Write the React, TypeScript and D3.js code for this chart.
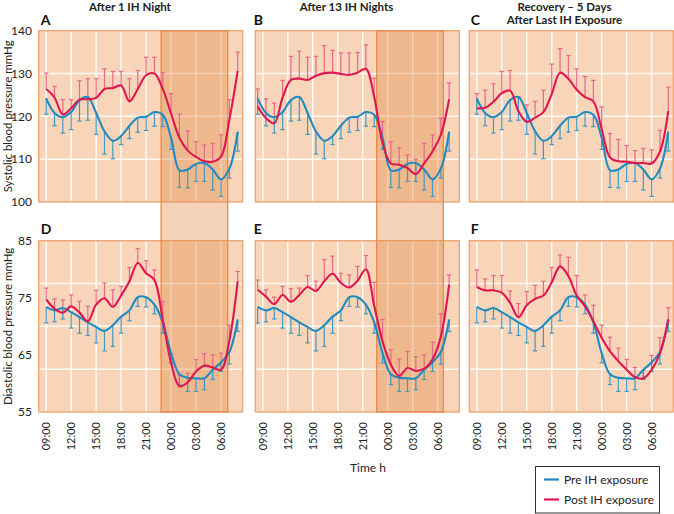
import React from 'react';
import * as d3 from 'd3';

// ---------- data ----------
const hours = [9, 10, 11, 12, 13, 14, 15, 16, 17, 18, 19, 20, 21, 22, 23, 24, 25, 26, 27, 28, 29, 30, 31, 32];
const tickHours = [9, 12, 15, 18, 21, 24, 27, 30];
const timeTickLabels = ['09:00', '12:00', '15:00', '18:00', '21:00', '00:00', '03:00', '06:00'];
const sysTicks = [140, 130, 120, 110, 100];
const diaTicks = [85, 75, 65, 55];
const titles = ['After 1 IH Night', 'After 13 IH Nights', 'Recovery – 5 Days|After Last IH Exposure'];
const letters = [['A', 'B', 'C'], ['D', 'E', 'F']];
const hourShift = [0, -0.62, 0];
const bandHours = [[22.8, 30.8], [22.68, 30.68], null];

// Pre IH exposure (shared baseline)
const preSys = [124.2, 120.8, 119.8, 121.0, 123.8, 124.5, 120.8, 116.5, 114.3, 115.4, 117.8, 119.7, 119.9, 121.0, 120.4, 115.0, 107.4, 107.6, 108.9, 109.1, 107.6, 105.3, 107.8, 116.4];
const preSysLow = [120.5, 117.8, 116.1, 116.9, 118.9, 119.1, 115.8, 111.2, 110.1, 113.4, 114.8, 116.3, 116.7, 117.7, 117.6, 112.3, 103.4, 103.3, 104.8, 104.8, 102.8, 101.3, 105.6, 111.9];
const preDia = [73.4, 72.8, 73.2, 72.5, 71.6, 70.7, 69.9, 69.2, 70.2, 71.7, 72.8, 75.1, 75.1, 73.8, 70.7, 65.3, 61.6, 61.0, 60.9, 60.9, 62.4, 63.7, 65.5, 71.2];
const preDiaLow = [70.6, 70.8, 71.3, 69.7, 68.8, 68.4, 67.1, 65.7, 66.5, 68.8, 71.0, 73.5, 73.4, 72.2, 68.8, 63.6, 59.8, 58.6, 58.6, 58.9, 60.7, 62.1, 63.4, 69.1];

// Post IH exposure
const postSysA = [126.4, 124.4, 120.4, 121.9, 123.9, 124.0, 124.3, 126.4, 126.6, 127.2, 123.5, 126.4, 129.6, 130.0, 126.4, 120.6, 115.0, 112.0, 110.5, 109.5, 109.4, 110.6, 119.2, 130.6];
const postSysAHigh = [130.1, 127.0, 123.9, 123.9, 128.3, 128.8, 128.8, 131.1, 130.5, 130.5, 128.8, 130.7, 133.8, 133.8, 130.2, 125.3, 120.5, 116.6, 114.1, 113.3, 113.7, 115.7, 123.9, 135.0];
const postSysB = [122.3, 119.6, 118.4, 124.4, 128.5, 128.8, 128.5, 129.5, 130.1, 130.2, 129.9, 129.7, 130.2, 131.1, 124.5, 113.8, 109.0, 108.7, 107.9, 106.5, 109.0, 111.8, 115.7, 124.0];
const postSysBHigh = [126.4, 124.1, 123.1, 128.4, 134.0, 135.2, 133.8, 134.0, 136.5, 135.4, 134.8, 134.8, 134.9, 136.7, 128.9, 118.8, 114.1, 112.7, 111.0, 110.0, 113.7, 115.7, 119.6, 127.8];
const postSysC = [121.9, 122.0, 123.4, 125.4, 126.0, 121.2, 118.7, 119.7, 121.0, 125.2, 130.2, 128.8, 126.2, 124.5, 123.5, 117.0, 110.4, 109.5, 109.4, 109.1, 109.1, 109.0, 111.8, 121.3];
const postSysCHigh = [125.3, 126.1, 127.6, 130.5, 130.7, 124.6, 122.7, 123.5, 126.1, 132.2, 135.8, 134.2, 131.1, 129.3, 128.4, 122.2, 116.0, 114.6, 113.2, 112.0, 112.5, 112.2, 116.7, 126.8];
const postDiaD = [74.7, 73.1, 72.4, 73.5, 72.4, 70.9, 73.8, 74.9, 73.4, 75.4, 77.9, 81.1, 79.3, 78.1, 71.2, 63.6, 59.5, 60.2, 62.1, 63.1, 62.8, 62.4, 67.5, 77.9];
const postDiaDHigh = [76.7, 74.8, 74.6, 75.5, 74.4, 73.5, 76.3, 77.6, 76.4, 77.0, 80.3, 83.6, 81.5, 79.9, 74.4, 65.2, 61.5, 61.8, 64.2, 65.2, 65.0, 65.3, 70.2, 79.6];
const postDiaE = [76.4, 75.2, 73.9, 75.5, 74.3, 75.5, 76.9, 76.2, 77.9, 79.2, 77.6, 76.8, 78.0, 80.0, 73.6, 67.4, 63.3, 61.3, 62.7, 62.2, 62.6, 64.2, 68.2, 77.3];
const postDiaEHigh = [78.1, 76.4, 75.1, 77.0, 76.6, 76.7, 78.9, 77.9, 81.7, 82.3, 79.3, 79.0, 80.5, 82.4, 77.7, 71.2, 65.9, 64.3, 65.6, 64.7, 65.0, 67.2, 72.2, 79.0];
const postDiaF = [76.9, 76.3, 76.3, 75.9, 74.1, 71.6, 73.7, 74.8, 75.4, 77.7, 80.5, 78.8, 75.4, 73.5, 70.9, 68.0, 65.6, 63.9, 62.4, 61.1, 60.9, 62.4, 65.3, 71.2];
const postDiaFHigh = [79.9, 78.3, 78.9, 78.9, 76.2, 74.0, 76.1, 77.2, 77.9, 80.3, 82.5, 82.1, 78.9, 75.5, 73.7, 70.2, 68.1, 66.2, 64.2, 62.8, 62.3, 64.9, 68.0, 73.3];

const legendLabels = ['Pre IH exposure', 'Post IH exposure'];

// ---------- style / layout ----------
const W = 674;
const H = 514;
const FONT = 'Lato, "Open Sans", sans-serif';
const BLUE = '#1f8bc0';
const RED = '#e0174f';
const BLUE_ERR = '#4199c2';
const RED_ERR = '#e6688a';
const PANEL_BG = '#f8d5b8';
const PANEL_BORDER = '#eba46f';
const BAND_FILL = '#e08a45';
const BAND_BORDER = '#e58b4e';

const colX = [38.7, 255.3, 469.3];
const rowY = [30.7, 240.7];
const PW = 204;
const PH = 171.3;

type PanelDef = {
  row: number; col: number;
  pre: number[]; preLow: number[];
  post: number[]; postHigh: number[];
};

const panels: PanelDef[] = [
  { row: 0, col: 0, pre: preSys, preLow: preSysLow, post: postSysA, postHigh: postSysAHigh },
  { row: 0, col: 1, pre: preSys, preLow: preSysLow, post: postSysB, postHigh: postSysBHigh },
  { row: 0, col: 2, pre: preSys, preLow: preSysLow, post: postSysC, postHigh: postSysCHigh },
  { row: 1, col: 0, pre: preDia, preLow: preDiaLow, post: postDiaD, postHigh: postDiaDHigh },
  { row: 1, col: 1, pre: preDia, preLow: preDiaLow, post: postDiaE, postHigh: postDiaEHigh },
  { row: 1, col: 2, pre: preDia, preLow: preDiaLow, post: postDiaF, postHigh: postDiaFHigh },
];

function xScaleFor(col: number) {
  return d3.scaleLinear().domain([8.1, 32.6]).range([colX[col], colX[col] + PW]);
}
function yScaleFor(row: number) {
  const dom = row === 0 ? [100, 140] : [55, 85];
  return d3.scaleLinear().domain(dom).range([rowY[row] + PH, rowY[row]]);
}

function Panel({ p }: { p: PanelDef }) {
  const x = xScaleFor(p.col);
  const y = yScaleFor(p.row);
  const [d0, d1] = y.domain();
  const hGrid = [0.25, 0.5, 0.75].map((f) => d0 + (d1 - d0) * f);
  return (
    <g>
      <rect x={colX[p.col]} y={rowY[p.row]} width={PW} height={PH} fill={PANEL_BG} stroke={PANEL_BORDER} strokeWidth={1.3} />
      {tickHours.map((h) => (
        <line key={'v' + h} x1={x(h)} x2={x(h)} y1={rowY[p.row] + 1} y2={rowY[p.row] + PH - 1} stroke="#fff" strokeWidth={1.5} strokeOpacity={0.85} />
      ))}
      {hGrid.map((v) => (
        <line key={'h' + v} x1={colX[p.col] + 1} x2={colX[p.col] + PW - 1} y1={y(v)} y2={y(v)} stroke="#fff" strokeWidth={1.5} strokeOpacity={0.85} />
      ))}
    </g>
  );
}

function PanelData({ p }: { p: PanelDef }) {
  const x = xScaleFor(p.col);
  const y = yScaleFor(p.row);
  const shift = hourShift[p.col];
  const px = (i: number) => x(hours[i] + shift);
  const line = d3
    .line<number>()
    .x((_, i) => px(i))
    .y((v) => y(v))
    .curve(d3.curveCatmullRom.alpha(0.5));
  const cap = 2.2;
  return (
    <g>
      {p.post.map((v, i) => (
        <g key={'re' + i} stroke={RED_ERR} strokeWidth={1.2}>
          <line x1={px(i)} x2={px(i)} y1={y(v)} y2={y(p.postHigh[i])} />
          <line x1={px(i) - cap} x2={px(i) + cap} y1={y(p.postHigh[i])} y2={y(p.postHigh[i])} />
        </g>
      ))}
      {p.pre.map((v, i) => (
        <g key={'be' + i} stroke={BLUE_ERR} strokeWidth={1.2}>
          <line x1={px(i)} x2={px(i)} y1={y(v)} y2={y(p.preLow[i])} />
          <line x1={px(i) - cap} x2={px(i) + cap} y1={y(p.preLow[i])} y2={y(p.preLow[i])} />
        </g>
      ))}
      <path d={line(p.pre) || ''} fill="none" stroke={BLUE} strokeWidth={2.1} />
      <path d={line(p.post) || ''} fill="none" stroke={RED} strokeWidth={2.1} />
    </g>
  );
}

export default function App() {
  return (
    <svg width={W} height={H} style={{ position: 'absolute', left: 0, top: 0, background: '#fff' }} fontFamily={FONT}>
      {panels.map((p, k) => (
        <Panel key={'p' + k} p={p} />
      ))}
      {bandHours.map((b, col) => {
        if (!b) return null;
        const x = xScaleFor(col);
        return (
          <rect
            key={'band' + col}
            x={x(b[0])}
            y={rowY[0]}
            width={x(b[1]) - x(b[0])}
            height={rowY[1] + PH - rowY[0]}
            fill={BAND_FILL}
            fillOpacity={0.38}
            stroke={BAND_BORDER}
            strokeWidth={1.3}
          />
        );
      })}
      {panels.map((p, k) => (
        <PanelData key={'d' + k} p={p} />
      ))}

      {/* titles */}
      <text x={130} y={10.5} textAnchor="middle" fontSize={11.5} fontWeight={700} fill="#222">{titles[0]}</text>
      <text x={346.5} y={10.5} textAnchor="middle" fontSize={11.5} fontWeight={700} fill="#222">{titles[1]}</text>
      {titles[2].split('|').map((t, i) => (
        <text key={'t2' + i} x={564.5} y={10.5 + i * 13.5} textAnchor="middle" fontSize={11.5} fontWeight={700} fill="#222">{t}</text>
      ))}

      {/* panel letters */}
      {letters.map((row, r) =>
        row.map((L, c) => (
          <text key={L} x={colX[c] + (c === 0 ? 2 : c === 1 ? -1.5 : 1.5)} y={r === 0 ? 25 : 233.5} fontSize={14} fontWeight={700} fill="#111">{L}</text>
        ))
      )}

      {/* y ticks */}
      {sysTicks.map((t) => (
        <text key={'s' + t} x={32} y={yScaleFor(0)(t)} dy="0.35em" textAnchor="end" fontSize={12} fill="#222">{t}</text>
      ))}
      {diaTicks.map((t) => (
        <text key={'d' + t} x={32} y={yScaleFor(1)(t)} dy="0.35em" textAnchor="end" fontSize={12} fill="#222">{t}</text>
      ))}
      <text transform={`translate(12,${rowY[0] + PH / 2}) rotate(-90)`} textAnchor="middle" fontSize={11.5} fill="#222">Systolic blood pressure mmHg</text>
      <text transform={`translate(12,${rowY[1] + PH / 2}) rotate(-90)`} textAnchor="middle" fontSize={11.5} fill="#222">Diastolic blood pressure mmHg</text>

      {/* x ticks */}
      {[0, 1, 2].map((col) => {
        const x = xScaleFor(col);
        return tickHours.map((h, i) => (
          <text
            key={'xt' + col + '-' + i}
            transform={`translate(${x(h)},${rowY[1] + PH + 10}) rotate(-90)`}
            textAnchor="end"
            dy="0.35em"
            fontSize={11}
            fill="#222"
          >
            {timeTickLabels[i]}
          </text>
        ));
      })}
      <text x={368} y={472} textAnchor="middle" fontSize={12} fill="#222">Time h</text>

      {/* legend */}
      <rect x={535.5} y={466.5} width={124} height={46.5} fill="#fff" stroke="#333" strokeWidth={1} />
      <line x1={544} x2={559} y1={479.5} y2={479.5} stroke={BLUE} strokeWidth={2.2} />
      <text x={564} y={479.5} dy="0.35em" fontSize={12} fill="#222">{legendLabels[0]}</text>
      <line x1={544} x2={559} y1={499.5} y2={499.5} stroke={RED} strokeWidth={2.2} />
      <text x={564} y={499.5} dy="0.35em" fontSize={12} fill="#222">{legendLabels[1]}</text>
    </svg>
  );
}
